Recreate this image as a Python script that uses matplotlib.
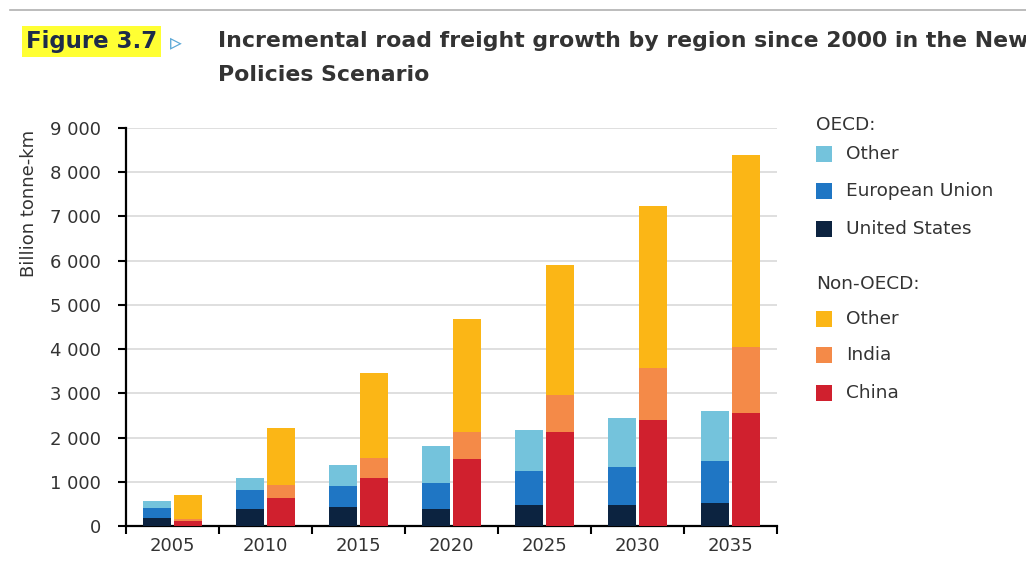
import numpy as np
import matplotlib
matplotlib.use("Agg")
import matplotlib.pyplot as plt
from matplotlib.patches import Rectangle

# data (billion tonne-km, incremental since 2000)
years = ['2005', '2010', '2015', '2020', '2025', '2030', '2035']
oecd_us = [170, 385, 420, 380, 475, 475, 515]
oecd_eu = [230, 430, 485, 600, 770, 865, 965]
oecd_other = [170, 265, 475, 820, 915, 1095, 1130]
non_china = [120, 640, 1080, 1520, 2120, 2400, 2550]
non_india = [30, 290, 450, 610, 845, 1170, 1490]
non_other = [540, 1280, 1920, 2560, 2940, 3655, 4355]

c_us = '#0c2340'
c_eu = '#1f76c4'
c_oother = '#74c3dc'
c_china = '#d0202e'
c_india = '#f48a48'
c_nother = '#fbb616'

fig = plt.figure(figsize=(10.26, 5.67), dpi=100)
ax = fig.add_axes([0.1228, 0.0723, 0.6345, 0.702])

x = np.arange(len(years))
w = 0.30
xo = x - 0.165
xn = x + 0.165

b1 = np.array(oecd_us)
b2 = b1 + np.array(oecd_eu)
ax.bar(xo, oecd_us, w, color=c_us, zorder=3)
ax.bar(xo, oecd_eu, w, bottom=b1, color=c_eu, zorder=3)
ax.bar(xo, oecd_other, w, bottom=b2, color=c_oother, zorder=3)

n1 = np.array(non_china)
n2 = n1 + np.array(non_india)
ax.bar(xn, non_china, w, color=c_china, zorder=3)
ax.bar(xn, non_india, w, bottom=n1, color=c_india, zorder=3)
ax.bar(xn, non_other, w, bottom=n2, color=c_nother, zorder=3)

ax.set_xlim(-0.5, len(years) - 0.5)
ax.set_ylim(0, 9000)
yt = np.arange(0, 9001, 1000)
ax.set_yticks(yt)
ax.set_yticklabels([f"{v:,}".replace(',', ' ') for v in yt], fontsize=13, color='#333333')
ax.yaxis.grid(True, color='#d6d6d6', linewidth=1.1, zorder=0)
ax.set_axisbelow(True)

ax.set_xticks(x)
ax.set_xticklabels(years, fontsize=13, color='#333333')
ax.tick_params(axis='x', which='major', length=0, pad=8)
ax.set_xticks(np.arange(-0.5, len(years)), minor=True)
ax.tick_params(axis='x', which='minor', length=6, width=1.5, direction='out')
ax.tick_params(axis='y', length=6, width=1.5, direction='out', pad=12)

for s in ['top', 'right']:
    ax.spines[s].set_visible(False)
for s in ['left', 'bottom']:
    ax.spines[s].set_linewidth(1.6)
    ax.spines[s].set_color('black')

ax.set_ylabel('Billion tonne-km', fontsize=13, color='#333333')
ax.yaxis.set_label_coords(-0.135, 0.81)

# top rule
fig.add_artist(plt.Line2D([0.01, 1.0], [0.982, 0.982], color='#b0b0b0', linewidth=1.2))

# title
fig.text(0.025, 0.927, 'Figure 3.7', fontsize=16.5, fontweight='bold', color='#1d2b4a',
         va='center', ha='left',
         bbox=dict(boxstyle='square,pad=0.18', facecolor='#ffff33', edgecolor='none'))
fig.text(0.166, 0.925, '\u25b9', fontsize=17, color='#5aa7d6', va='center', ha='left')
fig.text(0.212, 0.927, 'Incremental road freight growth by region since 2000 in the New',
         fontsize=15.8, fontweight='bold', color='#333333', va='center', ha='left')
fig.text(0.212, 0.868, 'Policies Scenario',
         fontsize=15.8, fontweight='bold', color='#333333', va='center', ha='left')

# legend
lx = 0.795
fs = 13.3
def header(y, text):
    fig.text(lx, 1 - y / 567, text, fontsize=fs, color='#333333', va='center', ha='left')

def item(y, color, text):
    fig.add_artist(Rectangle((lx, 1 - (y + 8) / 567), 16 / 1026, 16 / 567,
                             facecolor=color, edgecolor='none', transform=fig.transFigure))
    fig.text(lx + 30 / 1026, 1 - y / 567, text, fontsize=fs, color='#333333', va='center', ha='left')

header(125, 'OECD:')
item(154, c_oother, 'Other')
item(191, c_eu, 'European Union')
item(229, c_us, 'United States')
header(284, 'Non-OECD:')
item(319, c_nother, 'Other')
item(355, c_india, 'India')
item(393, c_china, 'China')

fig.savefig('out.png', dpi=100)
